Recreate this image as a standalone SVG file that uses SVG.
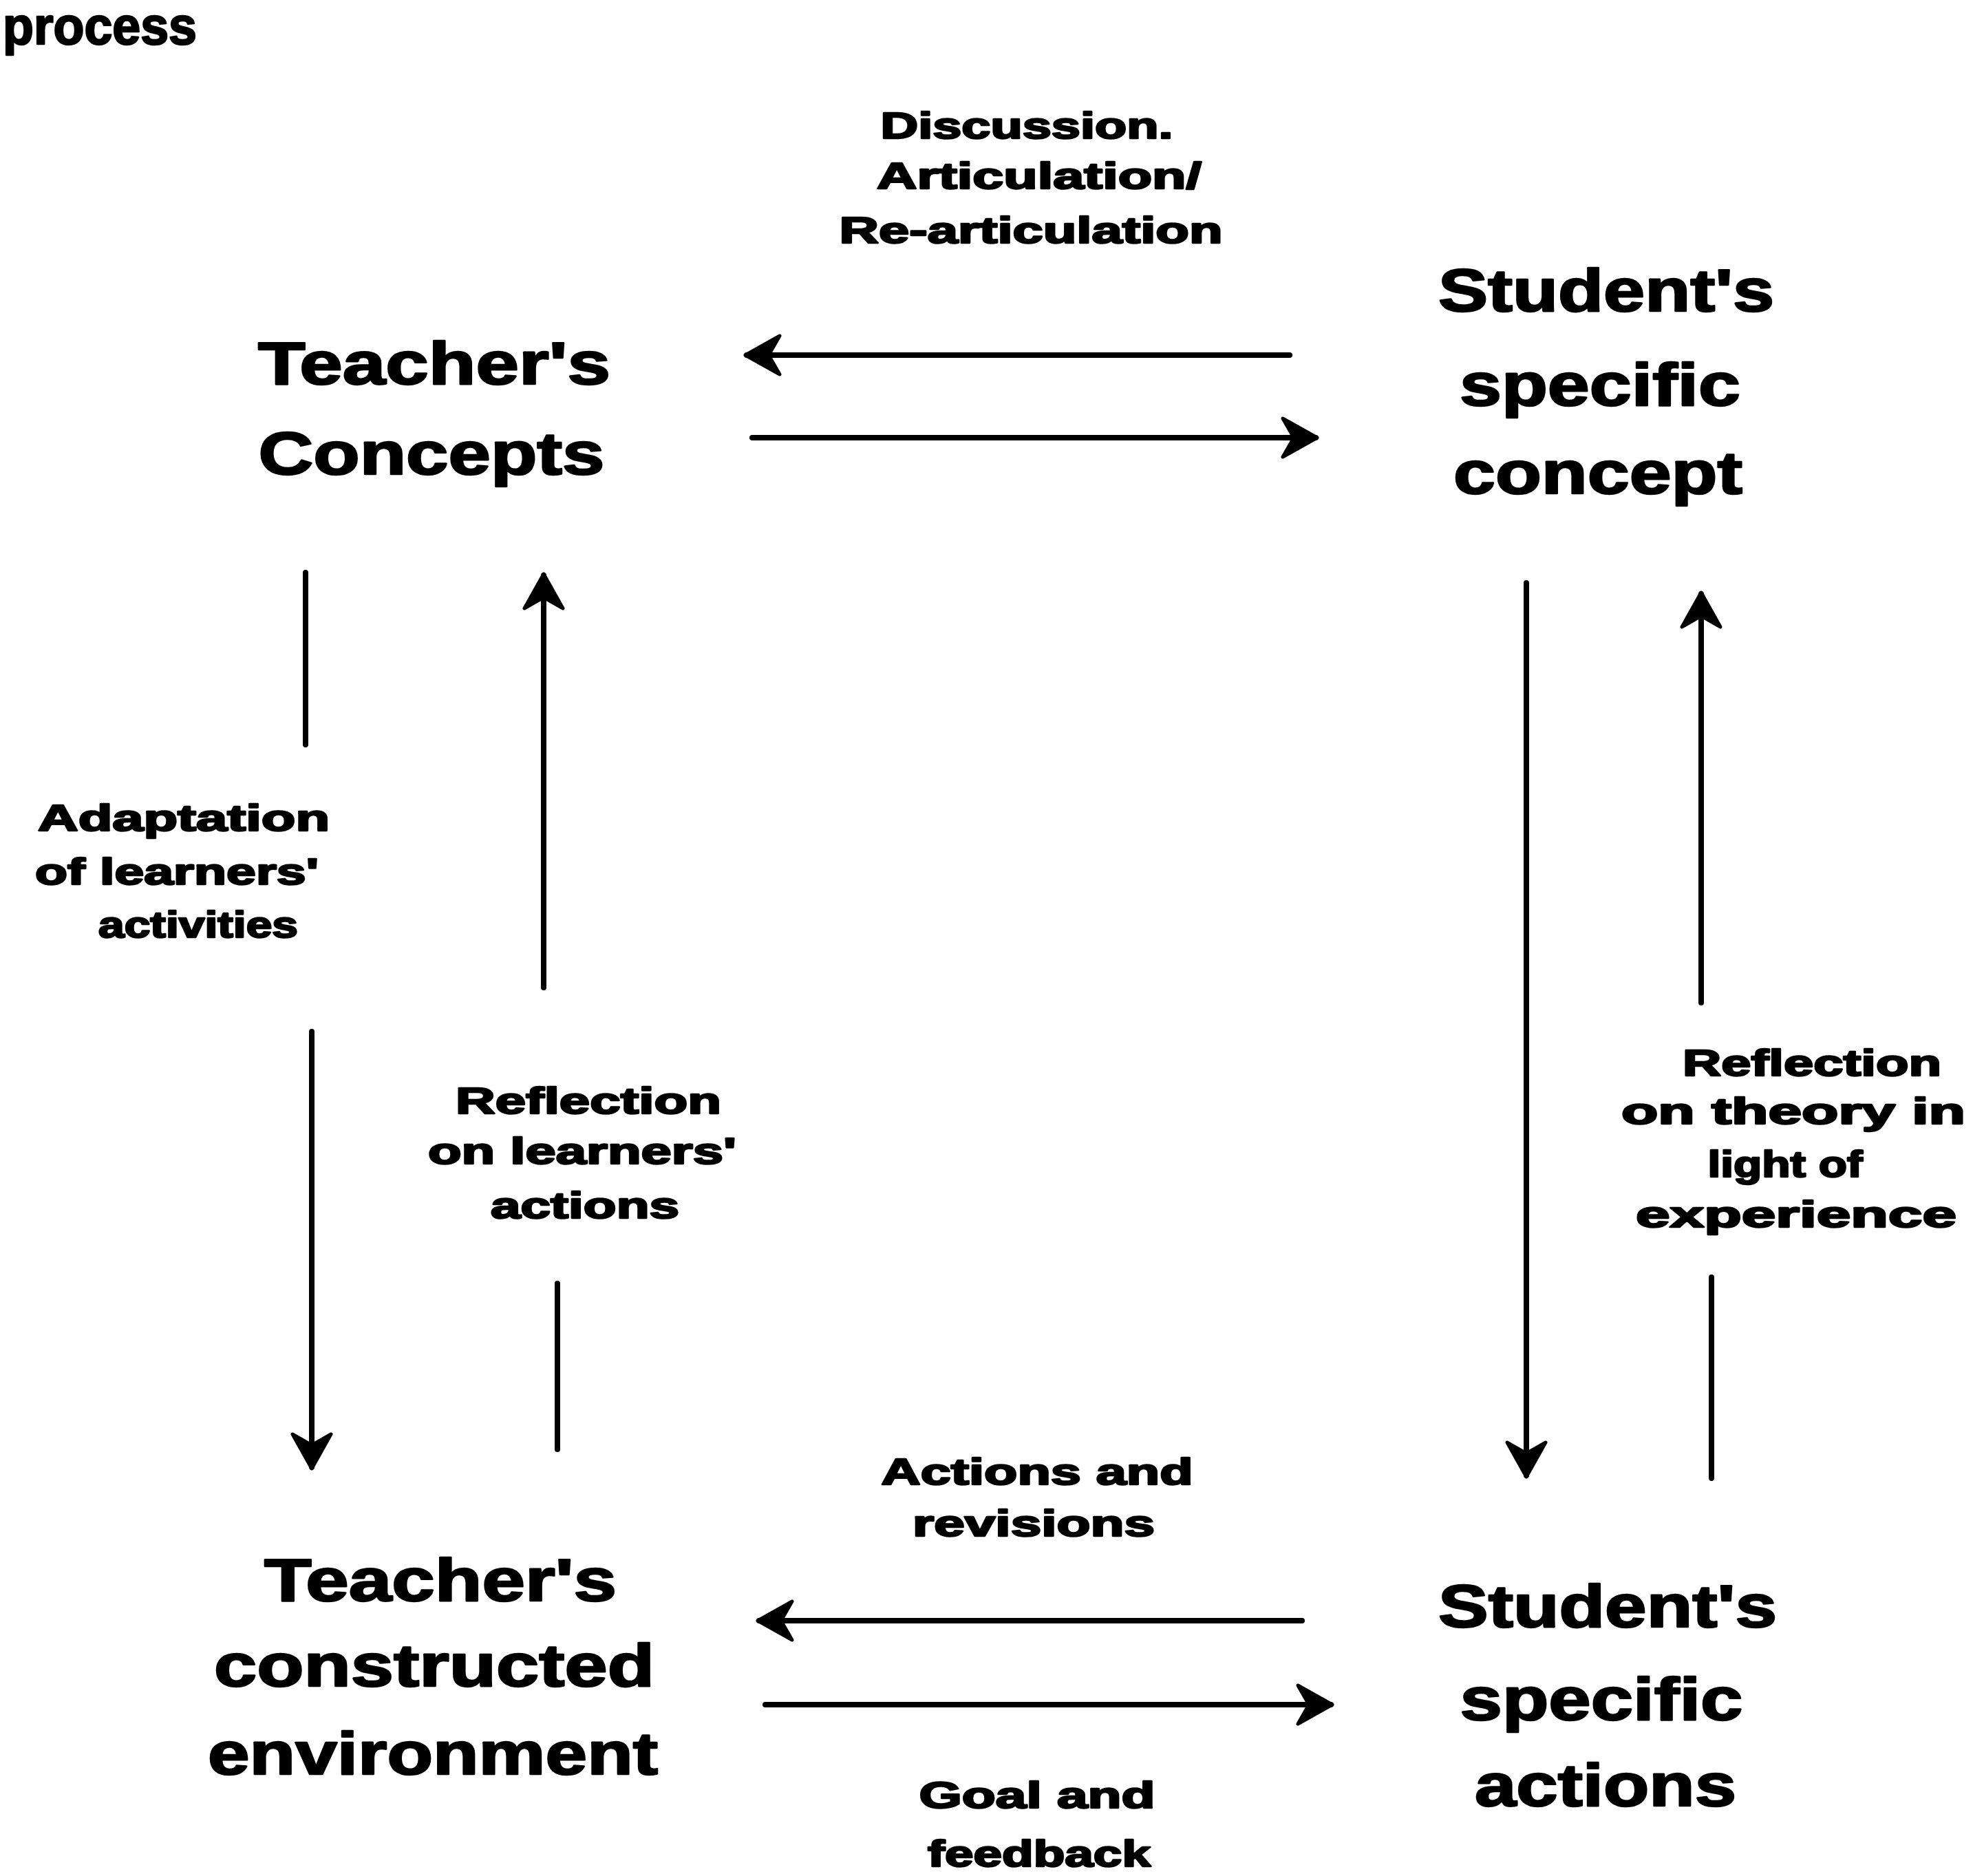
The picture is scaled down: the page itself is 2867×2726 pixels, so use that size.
<svg xmlns="http://www.w3.org/2000/svg" width="2867" height="2726" viewBox="0 0 2867 2726">
<style>
text{font-family:"Liberation Sans",Arial,sans-serif;font-weight:bold;fill:#000;text-anchor:middle;stroke:#000;stroke-width:2.5;stroke-linejoin:round}
.node{font-size:88px}
.lab{font-size:54px}
.ln{stroke:#000;stroke-width:8;fill:none;stroke-linecap:round}
</style>
<defs>
<marker id="ah" viewBox="-52 -32 58 64" refX="0" refY="0" markerWidth="58" markerHeight="64" markerUnits="userSpaceOnUse" orient="auto">
<path d="M2,0 L-48,-28 L-32,0 L-48,28 Z" fill="#000" stroke="#000" stroke-width="5" stroke-linejoin="round"/>
</marker>
</defs>
<rect width="2867" height="2726" fill="#fff"/>
<g id="title">
<text x="4" y="64" style="font-size:76px;text-anchor:start" textLength="282" lengthAdjust="spacingAndGlyphs">process</text>
</g>
<g id="tc">
<text class="node" x="631" y="558" textLength="512" lengthAdjust="spacingAndGlyphs">Teacher's</text>
<text class="node" x="627" y="689" textLength="503" lengthAdjust="spacingAndGlyphs">Concepts</text>
</g>
<g id="sc">
<text class="node" x="2334" y="452" textLength="488" lengthAdjust="spacingAndGlyphs">Student's</text>
<text class="node" x="2325" y="589" textLength="408" lengthAdjust="spacingAndGlyphs">specific</text>
<text class="node" x="2322" y="717" textLength="420" lengthAdjust="spacingAndGlyphs">concept</text>
</g>
<g id="te">
<text class="node" x="640" y="2326" textLength="512" lengthAdjust="spacingAndGlyphs">Teacher's</text>
<text class="node" x="631" y="2450" textLength="640" lengthAdjust="spacingAndGlyphs">constructed</text>
<text class="node" x="629" y="2578" textLength="654" lengthAdjust="spacingAndGlyphs">environment</text>
</g>
<g id="sa">
<text class="node" x="2336" y="2364" textLength="492" lengthAdjust="spacingAndGlyphs">Student's</text>
<text class="node" x="2327" y="2499" textLength="411" lengthAdjust="spacingAndGlyphs">specific</text>
<text class="node" x="2333" y="2624" textLength="380" lengthAdjust="spacingAndGlyphs">actions</text>
</g>
<g id="connectors">
<line class="ln" x1="1874" y1="516" x2="1085" y2="516" marker-end="url(#ah)"/>
<line class="ln" x1="1093" y1="636" x2="1912" y2="636" marker-end="url(#ah)"/>
<line class="ln" x1="444" y1="832" x2="444" y2="1082"/>
<line class="ln" x1="453" y1="1499" x2="453" y2="2132" marker-end="url(#ah)"/>
<line class="ln" x1="790" y1="1435" x2="790" y2="836" marker-end="url(#ah)"/>
<line class="ln" x1="810" y1="1865" x2="810" y2="2106"/>
<line class="ln" x1="2218" y1="847" x2="2218" y2="2144" marker-end="url(#ah)"/>
<line class="ln" x1="2472" y1="1457" x2="2472" y2="863" marker-end="url(#ah)"/>
<line class="ln" x1="2487" y1="1856" x2="2487" y2="2148"/>
<line class="ln" x1="1892" y1="2355" x2="1103" y2="2355" marker-end="url(#ah)"/>
<line class="ln" x1="1112" y1="2477" x2="1934" y2="2477" marker-end="url(#ah)"/>
</g>
<g id="labels">
<g id="lab-discussion">
<text class="lab" x="1492" y="201" textLength="425" lengthAdjust="spacingAndGlyphs">Discussion.</text>
<text class="lab" x="1510" y="274" textLength="472" lengthAdjust="spacingAndGlyphs">Articulation/</text>
<text class="lab" x="1498" y="353" textLength="557" lengthAdjust="spacingAndGlyphs">Re-articulation</text>
</g>
<g id="lab-adaptation">
<text class="lab" x="267" y="1207" textLength="424" lengthAdjust="spacingAndGlyphs">Adaptation</text>
<text class="lab" x="257" y="1285" textLength="412" lengthAdjust="spacingAndGlyphs">of learners'</text>
<text class="lab" x="288" y="1362" textLength="290" lengthAdjust="spacingAndGlyphs">activities</text>
</g>
<g id="lab-refl-learners">
<text class="lab" x="855" y="1618" textLength="386" lengthAdjust="spacingAndGlyphs">Reflection</text>
<text class="lab" x="846" y="1691" textLength="448" lengthAdjust="spacingAndGlyphs">on learners'</text>
<text class="lab" x="850" y="1770" textLength="274" lengthAdjust="spacingAndGlyphs">actions</text>
</g>
<g id="lab-refl-theory">
<text class="lab" x="2633" y="1563" textLength="376" lengthAdjust="spacingAndGlyphs">Reflection</text>
<text class="lab" x="2606" y="1633" textLength="500" lengthAdjust="spacingAndGlyphs">on theory in</text>
<text class="lab" x="2594" y="1710" textLength="225" lengthAdjust="spacingAndGlyphs">light of</text>
<text class="lab" x="2610" y="1783" textLength="466" lengthAdjust="spacingAndGlyphs">experience</text>
</g>
<g id="lab-actions">
<text class="lab" x="1507" y="2157" textLength="453" lengthAdjust="spacingAndGlyphs">Actions and</text>
<text class="lab" x="1502" y="2232" textLength="352" lengthAdjust="spacingAndGlyphs">revisions</text>
</g>
<g id="lab-goal">
<text class="lab" x="1507" y="2627" textLength="343" lengthAdjust="spacingAndGlyphs">Goal and</text>
<text class="lab" x="1510" y="2712" textLength="324" lengthAdjust="spacingAndGlyphs">feedback</text>
</g>
</g>
</svg>
